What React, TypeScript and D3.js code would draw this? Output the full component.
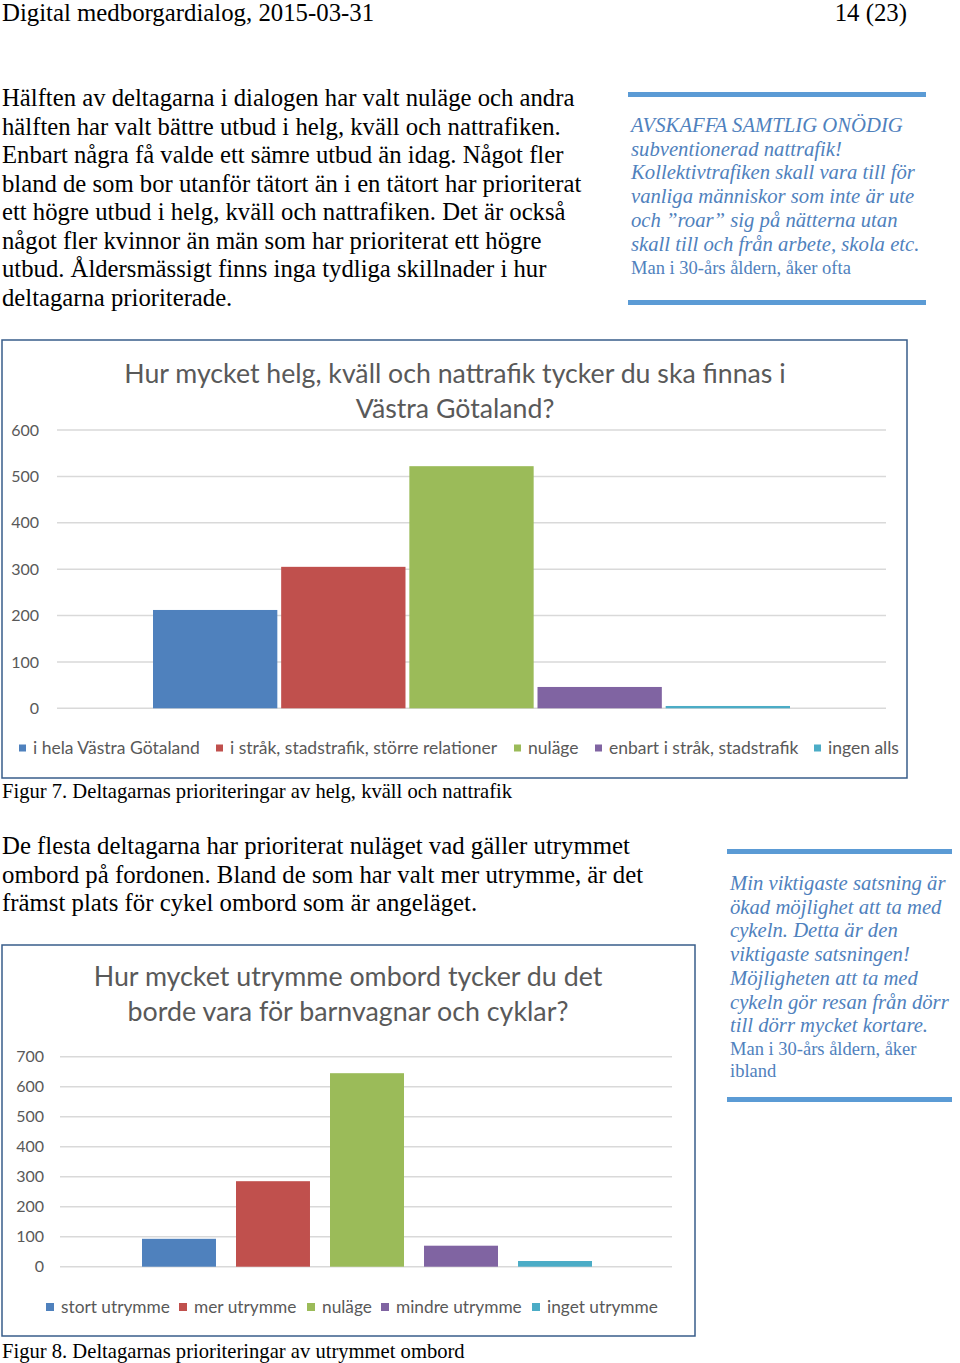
import React from "react";
import * as d3 from "d3";

// ---- Data ----
const chart1Title = ["Hur mycket helg, kväll och nattrafik tycker du ska finnas i", "Västra Götaland?"];
const chart1Series = ["i hela Västra Götaland", "i stråk, stadstrafik, större relationer", "nuläge", "enbart i stråk, stadstrafik", "ingen alls"];
const chart1Values = [212, 305, 522, 46, 5];
const chart1Ticks = [0, 100, 200, 300, 400, 500, 600];

const chart2Title = ["Hur mycket utrymme ombord tycker du det", "borde vara för barnvagnar och cyklar?"];
const chart2Series = ["stort utrymme", "mer utrymme", "nuläge", "mindre utrymme", "inget utrymme"];
const chart2Values = [93, 285, 645, 70, 19];
const chart2Ticks = [0, 100, 200, 300, 400, 500, 600, 700];

const seriesColors = ["#4F81BD", "#C0504D", "#9BBB59", "#8064A2", "#4BACC6"];

const headerLeft = "Digital medborgardialog, 2015-03-31";
const headerRight = "14 (23)";
const para1 = [
  "Hälften av deltagarna i dialogen har valt nuläge och andra",
  "hälften har valt bättre utbud i helg, kväll och nattrafiken.",
  "Enbart några få valde ett sämre utbud än idag. Något fler",
  "bland de som bor utanför tätort än i en tätort har prioriterat",
  "ett högre utbud i helg, kväll och nattrafiken. Det är också",
  "något fler kvinnor än män som har prioriterat ett högre",
  "utbud. Åldersmässigt finns inga tydliga skillnader i hur",
  "deltagarna prioriterade.",
];
const para2 = [
  "De flesta deltagarna har prioriterat nuläget vad gäller utrymmet",
  "ombord på fordonen. Bland de som har valt mer utrymme, är det",
  "främst plats för cykel ombord som är angeläget.",
];
const quote1 = [
  "AVSKAFFA SAMTLIG ONÖDIG",
  "subventionerad nattrafik!",
  "Kollektivtrafiken skall vara till för",
  "vanliga människor som inte är ute",
  "och ”roar” sig på nätterna utan",
  "skall till och från arbete, skola etc.",
];
const quote1Author = ["Man i 30-års åldern, åker ofta"];
const quote2 = [
  "Min viktigaste satsning är",
  "ökad möjlighet att ta med",
  "cykeln. Detta är den",
  "viktigaste satsningen!",
  "Möjligheten att ta med",
  "cykeln gör resan från dörr",
  "till dörr mycket kortare.",
];
const quote2Author = ["Man i 30-års åldern, åker", "ibland"];
const caption1 = "Figur 7. Deltagarnas prioriteringar av helg, kväll och nattrafik";
const caption2 = "Figur 8. Deltagarnas prioriteringar av utrymmet ombord";

const SERIF = "'Liberation Serif', 'Times New Roman', serif";
const SANS = "Lato, 'Open Sans', sans-serif";
const QUOTE_COLOR = "#4F81BD";

type ChartProps = {
  frame: [number, number, number, number];
  title: string[];
  titleX: number;
  titleY: number;
  titleSize: number;
  series: string[];
  values: number[];
  ticks: number[];
  yRange: [number, number];
  gridX: [number, number];
  barRange: [number, number];
  padInner: number;
  labelX: number;
  legendY: number;
  legendX: number[];
  legendSize: number;
  legendBox: number;
  legendGap: number;
};

function BarChart(p: ChartProps) {
  const y = d3.scaleLinear().domain([0, p.ticks[p.ticks.length - 1]]).range(p.yRange);
  const x = d3.scaleBand<string>().domain(p.series).range(p.barRange).paddingInner(p.padInner).paddingOuter(0);
  const [fx, fy, fw, fh] = p.frame;
  return (
    <g>
      <rect x={fx} y={fy} width={fw} height={fh} fill="#fff" stroke="#385D8A" strokeWidth={1.5} />
      {p.title.map((t, i) => (
        <text key={i} x={p.titleX} y={p.titleY + i * 35} textAnchor="middle" fontFamily={SANS} fontSize={p.titleSize} fill="#595959">
          {t}
        </text>
      ))}
      {p.ticks.map((t) => (
        <g key={t}>
          <line x1={p.gridX[0]} x2={p.gridX[1]} y1={y(t)} y2={y(t)} stroke="#D9D9D9" strokeWidth={1.5} />
          <text x={p.labelX} y={y(t)} dy="0.35em" textAnchor="end" fontFamily={SANS} fontSize={16} fill="#595959">
            {t}
          </text>
        </g>
      ))}
      {p.series.map((s, i) => (
        <rect key={s} x={x(s)} y={y(p.values[i])} width={x.bandwidth()} height={y(0) - y(p.values[i])} fill={seriesColors[i]} />
      ))}
      {p.series.map((s, i) => (
        <g key={"lg" + s}>
          <rect x={p.legendX[i]} y={p.legendY - p.legendBox / 2} width={p.legendBox} height={p.legendBox} fill={seriesColors[i]} />
          <text x={p.legendX[i] + p.legendGap} y={p.legendY} dy="0.35em" fontFamily={SANS} fontSize={p.legendSize} fill="#595959">
            {s}
          </text>
        </g>
      ))}
    </g>
  );
}

function Quote({ x, top, bottom, barX, barW, lines, author, y0, lh, authorY, authorLh }: any) {
  return (
    <g>
      <rect x={barX} y={top} width={barW} height={5} fill="#5B9BD5" />
      <rect x={barX} y={bottom} width={barW} height={5} fill="#5B9BD5" />
      {lines.map((l: string, i: number) => (
        <text key={i} x={x} y={y0 + i * lh} fontFamily={SERIF} fontStyle="italic" fontSize={20.7} fill={QUOTE_COLOR}>
          {l}
        </text>
      ))}
      {author.map((l: string, i: number) => (
        <text key={"a" + i} x={x} y={authorY + i * authorLh} fontFamily={SERIF} fontSize={18.5} fill={QUOTE_COLOR}>
          {l}
        </text>
      ))}
    </g>
  );
}

export default function App() {
  return (
    <svg width={960} height={1363} style={{ position: "absolute", left: 0, top: 0, background: "#fff" }}>
      <rect width={960} height={1363} fill="#fff" />
      <text x={2} y={21} fontFamily={SERIF} fontSize={24.8} fill="#000">{headerLeft}</text>
      <text x={907} y={21} textAnchor="end" fontFamily={SERIF} fontSize={24.8} fill="#000">{headerRight}</text>

      {para1.map((l, i) => (
        <text key={i} x={2} y={106 + i * 28.5} fontFamily={SERIF} fontSize={24.7} fill="#000">{l}</text>
      ))}

      <Quote x={631} top={92} bottom={300} barX={628} barW={298} lines={quote1} author={quote1Author} y0={132} lh={23.7} authorY={274} authorLh={22} />

      <BarChart
        frame={[2, 340, 905, 438]}
        title={chart1Title}
        titleX={455}
        titleY={383}
        titleSize={26.7}
        series={chart1Series}
        values={chart1Values}
        ticks={chart1Ticks}
        yRange={[708.3, 430]}
        gridX={[57, 886]}
        barRange={[153, 790]}
        padInner={0.03}
        labelX={39}
        legendY={748}
        legendX={[19, 216, 514, 595, 814]}
        legendSize={17.5}
        legendBox={7}
        legendGap={14}
      />
      <text x={2} y={798} fontFamily={SERIF} fontSize={20.6} fill="#000">{caption1}</text>

      {para2.map((l, i) => (
        <text key={i} x={2} y={854 + i * 28.5} fontFamily={SERIF} fontSize={24.8} fill="#000">{l}</text>
      ))}

      <Quote x={730} top={849} bottom={1097} barX={727} barW={225} lines={quote2} author={quote2Author} y0={890} lh={23.7} authorY={1055} authorLh={22} />

      <BarChart
        frame={[2, 945, 693, 391]}
        title={chart2Title}
        titleX={348}
        titleY={986}
        titleSize={26.8}
        series={chart2Series}
        values={chart2Values}
        ticks={chart2Ticks}
        yRange={[1266.7, 1056.7]}
        gridX={[60, 672]}
        barRange={[142, 592]}
        padInner={0.213}
        labelX={44}
        legendY={1307}
        legendX={[46, 179, 307, 381, 532]}
        legendSize={17.3}
        legendBox={8}
        legendGap={15}
      />
      <text x={2} y={1358} fontFamily={SERIF} fontSize={20.6} fill="#000">{caption2}</text>
    </svg>
  );
}
